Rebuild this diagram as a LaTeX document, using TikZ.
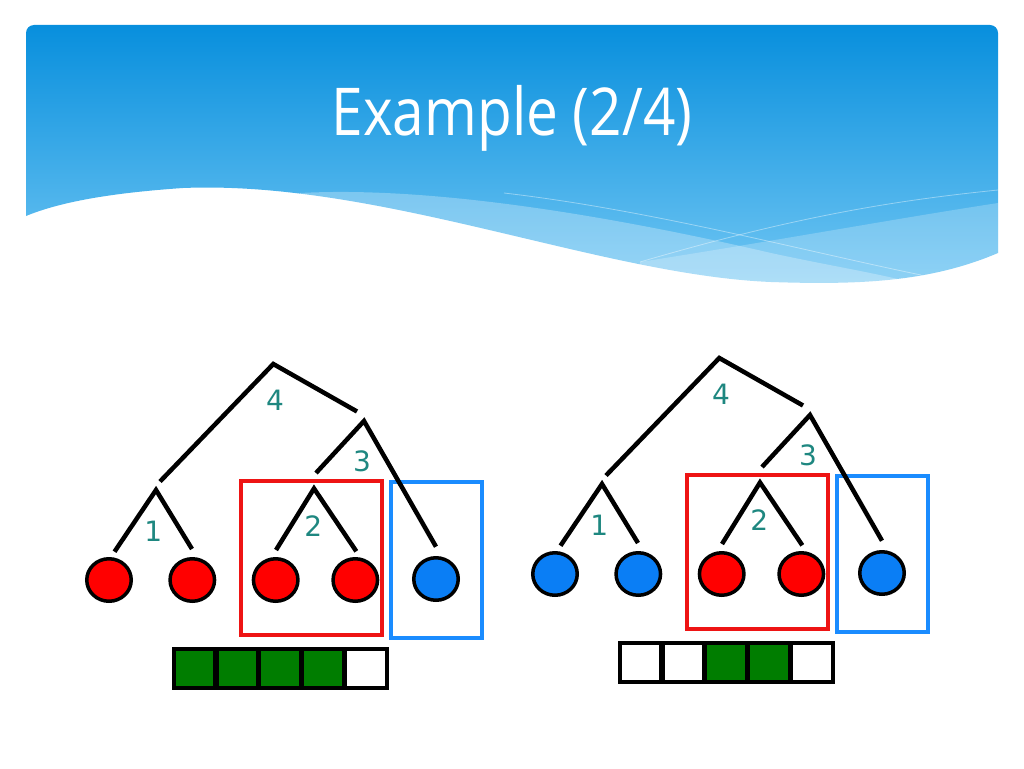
\documentclass[tikz,border=0pt]{standalone}
\usepackage{fontspec}
\usepackage{tikz}
\usetikzlibrary{shapes.geometric,positioning}
\newfontfamily\titlefont{Open Sans}
\newfontfamily\labfont{DejaVu Sans}
\definecolor{hdtop}{RGB}{8,143,221}
\definecolor{hdbot}{RGB}{112,198,243}
\definecolor{leafred}{RGB}{255,0,0}
\definecolor{leafblue}{RGB}{10,126,245}
\definecolor{boxred}{RGB}{238,20,20}
\definecolor{boxblue}{RGB}{26,140,255}
\definecolor{labteal}{RGB}{30,135,128}
\definecolor{cellgreen}{RGB}{0,125,0}
\tikzset{
  branch/.style={line width=4.5pt},
  leaf/.style={ellipse,draw=black,line width=3.5pt,minimum width=44.5pt,minimum height=42.5pt,inner sep=0pt},
  lab/.style={text=labteal,font=\labfont\fontsize{28}{28}\selectfont,inner sep=0pt},
  cell/.style={rectangle,draw=black,line width=3.8pt,minimum width=41.4pt,minimum height=38.9pt,inner sep=0pt,outer sep=0pt},
  selbox/.style={line width=3.8pt}
}

\begin{document}
\begin{tikzpicture}[x=1pt,y=-1pt]
    \useasboundingbox (0,0) rectangle (1024,768);
    % header with the wave
    \shade[top color=hdtop,bottom color=hdbot] (26,216) [rounded corners=8pt] -- (26,25) -- (998,25) [sharp corners] -- (998,253)
        .. controls (930,282) and (860,285) .. (771,282) .. controls (600,275) and (380,180) .. (183,188)
        .. controls (110,193) and (60,202) .. (26,216) -- cycle;
    \fill[white,opacity=0.28] (300,193) .. controls (450,185) and (650,225) .. (771,253)
        .. controls (840,268) and (890,275) .. (940,290) -- (300,300) -- cycle;
    \fill[white,opacity=0.22] (998,203) .. controls (900,218) and (780,240) .. (640,262) -- (640,300) -- (998,300) -- cycle;
    \draw[white,opacity=0.4,line width=0.8pt] (504,193) .. controls (650,210) and (800,250) .. (921,275);
    \draw[white,opacity=0.4,line width=0.8pt] (998,190) .. controls (900,200) and (800,215) .. (640,262);
    \node[text=white,anchor=base] (title) at (512,135) {\titlefont\fontsize{66}{70}\selectfont\scalebox{0.86}[1]{Example (2/4)}};

    \foreach \t/\sx/\sy/\ca/\cb/\ga/\gb/\gc/\gd/\ge in {l/0/0/leafred/leafred/cellgreen/cellgreen/cellgreen/cellgreen/white,
        r/446/-6/leafblue/leafblue/white/white/cellgreen/cellgreen/white}{
    \begin{scope}[shift={(\sx,\sy)}]
    \draw[selbox,boxred] (241,481) rectangle (382.3,635);
    \draw[selbox,boxblue] (391,481.7) rectangle (482.3,637.6);
    \coordinate (n4\t) at (273.3,364);
    \coordinate (n4a\t) at (160,481.5);
    \coordinate (n4b\t) at (357,411.5);
    \coordinate (n3\t) at (364,421);
    \coordinate (n3a\t) at (316,473);
    \coordinate (n3b\t) at (436,546.7);
    \coordinate (n1\t) at (156,490);
    \coordinate (n1a\t) at (114.5,551.7);
    \coordinate (n1b\t) at (192,549);
    \coordinate (n2\t) at (314,488.5);
    \coordinate (n2a\t) at (276,550);
    \coordinate (n2b\t) at (356.3,551.3);
    \draw[branch] (n4a\t) -- (n4\t) -- (n4b\t);
    \draw[branch] (n3a\t) -- (n3\t) -- (n3b\t);
    \draw[branch] (n1a\t) -- (n1\t) -- (n1b\t);
    \draw[branch] (n2a\t) -- (n2\t) -- (n2b\t);
    \node[lab] (k4\t) at (275,400) {4};
    \node[lab] (k3\t) at (362,461) {3};
    \node[lab] (k1\t) at (153.3,531.5) {1};
    \node[lab] (k2\t) at (313.3,526) {2};
    \node[leaf,fill=\ca] (leafa\t) at (109,580) {};
    \node[leaf,fill=\cb] (leafb\t) at (192.3,580) {};
    \node[leaf,fill=leafred] (leafc\t) at (275.7,580) {};
    \node[leaf,fill=leafred] (leafd\t) at (355.3,580) {};
    \node[leaf,fill=leafblue] (leafe\t) at (436,579) {};
    % bit vector
    \node[cell,fill=\ga] (ca\t) at (194.4,668.8) {};
    \node[cell,fill=\gb,right=1.5pt of ca\t] (cb\t) {};
    \node[cell,fill=\gc,right=1.5pt of cb\t] (cc\t) {};
    \node[cell,fill=\gd,right=1.5pt of cc\t] (cd\t) {};
    \node[cell,fill=\ge,right=1.5pt of cd\t] (ce\t) {};
    \end{scope}
    }
\end{tikzpicture}
\end{document}
